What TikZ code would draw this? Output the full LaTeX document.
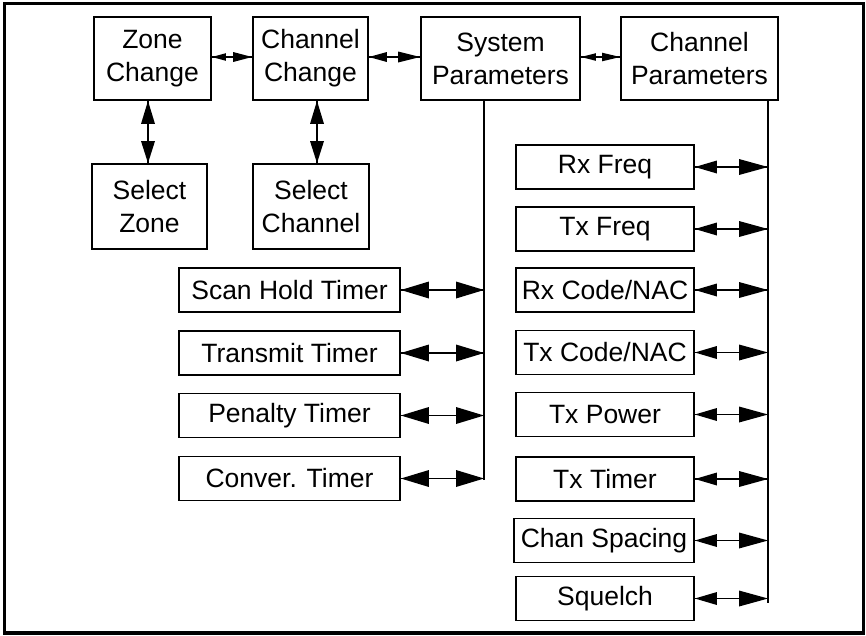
\documentclass[tikz,border=0pt]{standalone}
\usepackage{fontspec}
\setmainfont{Liberation Sans}
\usetikzlibrary{calc}

% two-way connector: line from #1 to #2 with a solid triangular head at each end
% #3/#4 = length/half-width of the head at #1, #5/#6 = the same at #2
\newcommand\twoway[6]{%
  \draw[link] (#1) -- (#2);
  \fill (#1) -- ($($(#1)!#3!(#2)$)!#4!90:(#2)$) -- ($($(#1)!#3!(#2)$)!#4!-90:(#2)$) -- cycle;
  \fill (#2) -- ($($(#2)!#5!(#1)$)!#6!90:(#1)$) -- ($($(#2)!#5!(#1)$)!#6!-90:(#1)$) -- cycle;
}

\begin{document}
\begin{tikzpicture}[x=1pt,y=-1pt,
  box/.style={draw,line width=1.8pt,inner sep=0pt,align=center,
    font=\fontsize{26.5}{33}\selectfont},
  topbox/.style={box,minimum height=83pt},
  selbox/.style={box,minimum width=116pt,minimum height=85pt},
  timerbox/.style={box,minimum width=221pt,minimum height=44pt},
  parbox/.style={box,minimum width=178pt,minimum height=44pt},
  bus/.style={line width=1.8pt},
  link/.style={line width=1.8pt}]

\useasboundingbox (0,0) rectangle (866,635);
\draw[line width=3.5pt] (4.5,3.5) rectangle (863.5,633);

% top row
\node[topbox,minimum width=117pt] (zone) at (152.5,58.5) {Zone\\Change};
\node[topbox,minimum width=115pt] (chch) at (310.5,58.5) {Channel\\Change};
\node[topbox,minimum width=159pt] (sys) at (500.5,58.5) {System\\Parameters};
\node[topbox,minimum width=157pt] (chpar) at (699.5,58.5) {Channel\\Parameters};

% selection boxes
\node[selbox,minimum width=115pt] (selzone) at (149.5,206.5) {Select\\Zone};
\node[selbox] (selch) at (311,206.5) {Select\\Channel};

% system parameter entries
\node[timerbox] (scan) at (289.5,290) {Scan Hold Timer};
\node[timerbox] (xmit) at (289.5,353) {Transmit Timer};
\node[timerbox] (pen) at (289.5,415.5) {Penalty Timer};
\node[timerbox] (conv) at (289.5,478.5) {Conver. Timer};

% channel parameter entries
\node[parbox] (rxf) at (605,167) {Rx Freq};
\node[parbox] (txf) at (605,229) {Tx Freq};
\node[parbox] (rxc) at (605,290) {Rx Code/NAC};
\node[parbox] (txc) at (605,352.5) {Tx Code/NAC};
\node[parbox] (txp) at (605,414.5) {Tx Power};
\node[parbox] (txt) at (605,479) {Tx Timer};
\node[parbox,minimum width=180pt] (spc) at (604,540.5) {Chan Spacing};
\node[parbox] (sq) at (605,598.5) {Squelch};

% bus lines
\coordinate (systop) at (484,100);
\coordinate (sysend) at (484,480);
\coordinate (chtop) at (768,101);
\coordinate (chend) at (768,603);
\draw[bus] (systop) -- (sysend);
\draw[bus] (chtop) -- (chend);

% top row links
\coordinate (zoneR) at ([yshift=1.5pt]zone.east);
\coordinate (chchL) at ([yshift=1.5pt]chch.west);
\coordinate (chchR) at ([yshift=1.5pt]chch.east);
\coordinate (sysL) at ([yshift=1.5pt]sys.west);
\coordinate (sysR) at ([yshift=1.5pt]sys.east);
\coordinate (chparL) at ([yshift=1.5pt]chpar.west);
\twoway{zoneR}{chchL}{14pt}{3.8pt}{19pt}{5pt}
\twoway{chchR}{sysL}{18pt}{5pt}{22pt}{5.5pt}
\twoway{sysR}{chparL}{15pt}{3.8pt}{18pt}{4.3pt}

% vertical links
\coordinate (zoneB) at ([xshift=-1.5pt]selzone.north |- zone.south);
\coordinate (selzoneT) at ([xshift=-1.5pt]selzone.north);
\coordinate (chchB) at ([xshift=6pt]selch.north |- chch.south);
\coordinate (selchT) at ([xshift=6pt]selch.north);
\twoway{zoneB}{selzoneT}{23pt}{7pt}{22pt}{7pt}
\twoway{chchB}{selchT}{23pt}{7pt}{22pt}{7pt}

% system parameter links
\foreach \n in {scan,xmit,pen,conv}{
  \coordinate (\n bus) at (\n.east -| sysend);
  \twoway{\n.east}{\n bus}{28pt}{8.5pt}{28pt}{8.5pt}
}

% channel parameter links
\foreach \n in {rxf,txf,rxc,txc,txp,txt,spc,sq}{
  \coordinate (\n bus) at (\n.east -| chend);
  \twoway{\n.east}{\n bus}{22pt}{6.5pt}{29pt}{8pt}
}

\end{tikzpicture}
\end{document}
